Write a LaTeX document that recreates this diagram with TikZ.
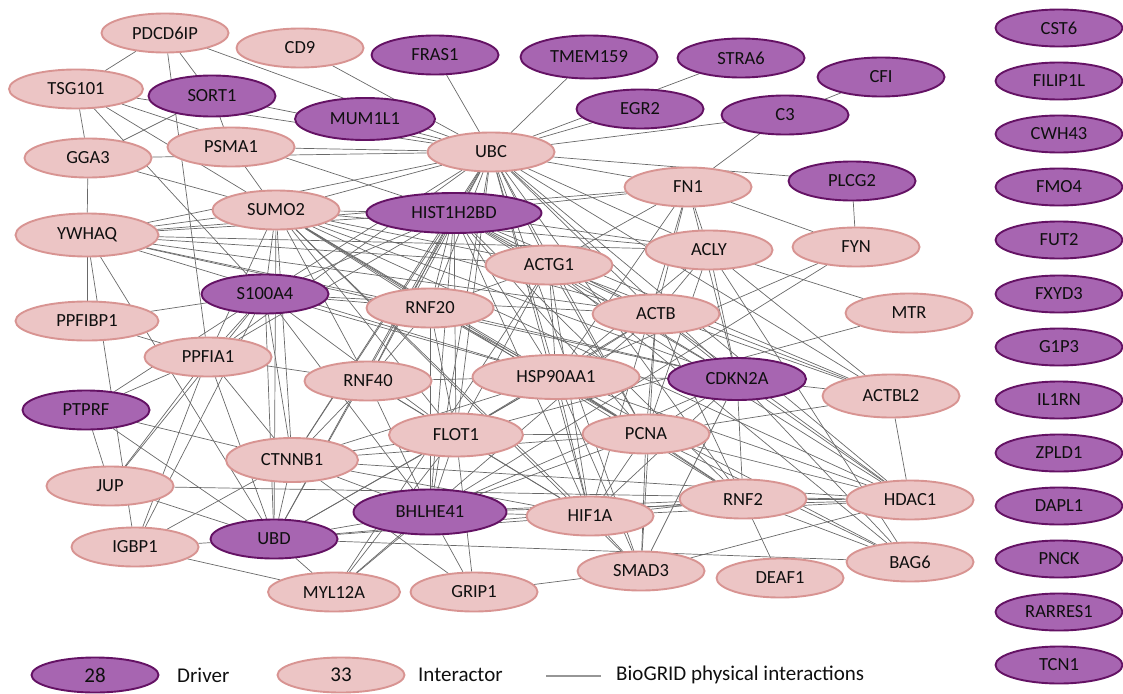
\documentclass[tikz,border=0pt]{standalone}
\usepackage{fontspec}
\setmainfont{Carlito}
\usepackage{tikz}
\definecolor{drv}{RGB}{167, 101, 177}
\definecolor{drvline}{RGB}{100, 18, 100}
\definecolor{itr}{RGB}{236, 197, 197}
\definecolor{itrline}{RGB}{216, 148, 146}
\definecolor{ln}{RGB}{105, 105, 105}
\definecolor{legln}{RGB}{150, 150, 150}
\definecolor{txt}{RGB}{15, 15, 15}
\usetikzlibrary{shapes.geometric}
\pgfdeclarelayer{background}
\pgfsetlayers{background,main}

\begin{document}
\begin{tikzpicture}[
driver/.style={ellipse, minimum width=127pt, minimum height=39pt, inner sep=0pt, fill=drv, line width=1.9pt, draw=drvline, text=txt, font=\fontsize{18.5}{20}\selectfont},
interactor/.style={ellipse, minimum width=127pt, minimum height=39pt, inner sep=0pt, fill=itr, line width=1.9pt, draw=itrline, text=txt, font=\fontsize{18.5}{20}\selectfont},
edge/.style={line width=0.7pt, color=ln},
legendtext/.style={anchor=west, inner sep=0pt, text=txt, font=\fontsize{21}{24}\selectfont}]
\useasboundingbox (0pt,0pt) rectangle (1123pt,-693pt);
% interactors
\node (PDCD6IP) [interactor] at (165pt, -33pt) {PDCD6IP};
\node (CD9) [interactor] at (300pt, -48pt) {CD9};
\node (TSG101) [interactor, minimum width=134pt] at (76pt, -89pt) {TSG101};
\node (GGA3) [interactor] at (88pt, -158pt) {GGA3};
\node (PSMA1) [interactor] at (231pt, -147pt) {PSMA1};
\node (UBC) [interactor] at (491pt, -152pt) {UBC};
\node (SUMO2) [interactor] at (276pt, -210pt) {SUMO2};
\node (FN1) [interactor] at (688pt, -187pt) {FN1};
\node (YWHAQ) [interactor, minimum width=143pt, minimum height=43pt] at (87pt, -235pt) {YWHAQ};
\node (ACLY) [interactor] at (709pt, -250pt) {ACLY};
\node (FYN) [interactor] at (856pt, -247pt) {FYN};
\node (ACTG1) [interactor] at (549pt, -265pt) {ACTG1};
\node (RNF20) [interactor] at (430pt, -308pt) {RNF20};
\node (ACTB) [interactor] at (656pt, -314pt) {ACTB};
\node (MTR) [interactor] at (909pt, -313pt) {MTR};
\node (PPFIBP1) [interactor, minimum width=143pt] at (87pt, -321pt) {PPFIBP1};
\node (PPFIA1) [interactor] at (208pt, -357pt) {PPFIA1};
\node (RNF40) [interactor] at (368pt, -381pt) {RNF40};
\node (HSP90AA1) [interactor, minimum width=167pt, minimum height=44pt] at (556pt, -377pt) {HSP90AA1};
\node (ACTBL2) [interactor, minimum width=137pt, minimum height=43pt] at (891pt, -396pt) {ACTBL2};
\node (FLOT1) [interactor, minimum width=134pt, minimum height=43pt] at (456pt, -435pt) {FLOT1};
\node (PCNA) [interactor] at (646pt, -434pt) {PCNA};
\node (CTNNB1) [interactor, minimum width=132pt, minimum height=44pt] at (292pt, -460pt) {CTNNB1};
\node (JUP) [interactor] at (110pt, -486pt) {JUP};
\node (RNF2) [interactor] at (743pt, -499pt) {RNF2};
\node (HDAC1) [interactor] at (910pt, -500pt) {HDAC1};
\node (HIF1A) [interactor] at (590pt, -516pt) {HIF1A};
\node (IGBP1) [interactor] at (135pt, -547pt) {IGBP1};
\node (SMAD3) [interactor] at (641pt, -571pt) {SMAD3};
\node (DEAF1) [interactor] at (780pt, -578pt) {DEAF1};
\node (BAG6) [interactor] at (910pt, -562pt) {BAG6};
\node (MYL12A) [interactor, minimum width=132pt] at (334pt, -592pt) {MYL12A};
\node (GRIP1) [interactor] at (474pt, -592pt) {GRIP1};
% drivers in the network
\node (FRAS1) [driver] at (435pt, -55pt) {FRAS1};
\node (TMEM159) [driver, minimum width=137pt, minimum height=43pt] at (589pt, -57pt) {TMEM159};
\node (STRA6) [driver] at (741pt, -58pt) {STRA6};
\node (SORT1) [driver, minimum height=41pt] at (212pt, -96pt) {SORT1};
\node (CFI) [driver] at (881pt, -77pt) {CFI};
\node (MUM1L1) [driver, minimum width=140pt, minimum height=42pt] at (365pt, -119pt) {MUM1L1};
\node (EGR2) [driver] at (640pt, -109pt) {EGR2};
\node (C3) [driver] at (785pt, -115pt) {C3};
\node (PLCG2) [driver] at (852pt, -181pt) {PLCG2};
\node (HIST1H2BD) [driver, minimum width=175pt, minimum height=40pt] at (454pt, -213pt) {HIST1H2BD};
\node (S100A4) [driver] at (265pt, -294pt) {S100A4};
\node (CDKN2A) [driver, minimum width=138pt, minimum height=42pt] at (737pt, -379pt) {CDKN2A};
\node (PTPRF) [driver] at (86pt, -410pt) {PTPRF};
\node (BHLHE41) [driver, minimum width=153pt, minimum height=45pt] at (430pt, -512pt) {BHLHE41};
\node (UBD) [driver] at (274pt, -539pt) {UBD};
% drivers without interactions
\node (CST6) [driver, minimum height=37pt] at (1059pt, -28pt) {CST6};
\node (FILIP1L) [driver, minimum height=37pt] at (1059pt, -81pt) {FILIP1L};
\node (CWH43) [driver, minimum height=37pt] at (1059pt, -134pt) {CWH43};
\node (FMO4) [driver, minimum height=37pt] at (1059pt, -187pt) {FMO4};
\node (FUT2) [driver, minimum height=37pt] at (1059pt, -240pt) {FUT2};
\node (FXYD3) [driver, minimum height=37pt] at (1059pt, -294pt) {FXYD3};
\node (G1P3) [driver, minimum height=37pt] at (1059pt, -347pt) {G1P3};
\node (IL1RN) [driver, minimum height=37pt] at (1059pt, -400pt) {IL1RN};
\node (ZPLD1) [driver, minimum height=37pt] at (1059pt, -453pt) {ZPLD1};
\node (DAPL1) [driver, minimum height=37pt] at (1059pt, -506pt) {DAPL1};
\node (PNCK) [driver, minimum height=37pt] at (1059pt, -559pt) {PNCK};
\node (RARRES1) [driver, minimum height=37pt] at (1059pt, -612pt) {RARRES1};
\node (TCN1) [driver, minimum height=37pt] at (1059pt, -665pt) {TCN1};
% legend
\node (legdrv) [driver, minimum height=35pt, font=\fontsize{21}{24}\selectfont] at (95pt, -675pt) {28};
\node (legdrvtxt) [legendtext] at (177pt, -675pt) {Driver};
\node (legitr) [interactor, minimum height=35pt, font=\fontsize{21}{24}\selectfont] at (341pt, -675pt) {33};
\node (legitrtxt) [legendtext] at (418pt, -675pt) {Interactor};
\coordinate (lega) at (546pt, -676pt);
\coordinate (legb) at (601pt, -676pt);
\draw [line width=1.2pt, color=legln] (lega) to (legb);
\node (legedgetxt) [legendtext] at (616pt, -675pt) {BioGRID physical interactions};
% interactions
\begin{pgfonlayer}{background}
\draw [edge] (UBC) to (PDCD6IP);
\draw [edge] (UBC) to (CD9);
\draw [edge] (UBC) to (TSG101);
\draw [edge] (UBC) to (GGA3);
\draw [edge] (UBC) to (SORT1);
\draw [edge] (UBC) to (PSMA1);
\draw [edge] (UBC) to (MUM1L1);
\draw [edge] (UBC) to (FRAS1);
\draw [edge] (UBC) to (TMEM159);
\draw [edge] (UBC) to (STRA6);
\draw [edge] (UBC) to (EGR2);
\draw [edge] (UBC) to (C3);
\draw [edge] (UBC) to (PLCG2);
\draw [edge] (UBC) to (FN1);
\draw [edge] (UBC) to (YWHAQ);
\draw [edge] (UBC) to (SUMO2);
\draw [edge] (UBC) to (HIST1H2BD);
\draw [edge] (UBC) to (S100A4);
\draw [edge] (UBC) to (ACTG1);
\draw [edge] (UBC) to (ACTB);
\draw [edge] (UBC) to (ACLY);
\draw [edge] (UBC) to (RNF20);
\draw [edge] (UBC) to (RNF40);
\draw [edge] (UBC) to (HSP90AA1);
\draw [edge] (UBC) to (CDKN2A);
\draw [edge] (UBC) to (PCNA);
\draw [edge] (UBC) to (FLOT1);
\draw [edge] (UBC) to (CTNNB1);
\draw [edge] (UBC) to (PPFIA1);
\draw [edge] (UBC) to (BHLHE41);
\draw [edge] (UBC) to (UBD);
\draw [edge] (UBC) to (HIF1A);
\draw [edge] (UBC) to (RNF2);
\draw [edge] (UBC) to (HDAC1);
\draw [edge] (UBC) to (SMAD3);
\draw [edge] (UBC) to (ACTBL2);
\draw [edge] (CFI) to (C3);
\draw [edge] (C3) to (FN1);
\draw [edge] (PLCG2) to (FYN);
\draw [edge] (FN1) to (FYN);
\draw [edge] (PDCD6IP) to (TSG101);
\draw [edge] (PDCD6IP) to (SORT1);
\draw [edge] (PDCD6IP) to (PPFIA1);
\draw [edge] (TSG101) to (GGA3);
\draw [edge] (GGA3) to (SORT1);
\draw [edge] (SORT1) to (PSMA1);
\draw [edge] (GGA3) to (YWHAQ);
\draw [edge] (SUMO2) to (TSG101);
\draw [edge] (SUMO2) to (GGA3);
\draw [edge] (SUMO2) to (PSMA1);
\draw [edge] (SUMO2) to (YWHAQ);
\draw [edge] (SUMO2) to (S100A4);
\draw [edge] (SUMO2) to (HIST1H2BD);
\draw [edge] (SUMO2) to (RNF20);
\draw [edge] (SUMO2) to (RNF40);
\draw [edge] (SUMO2) to (PPFIA1);
\draw [edge] (SUMO2) to (ACTG1);
\draw [edge] (SUMO2) to (ACLY);
\draw [edge] (SUMO2) to (HSP90AA1);
\draw [edge] (SUMO2) to (CDKN2A);
\draw [edge] (SUMO2) to (PCNA);
\draw [edge] (SUMO2) to (HDAC1);
\draw [edge] (SUMO2) to (HIF1A);
\draw [edge] (SUMO2) to (FLOT1);
\draw [edge] (SUMO2) to (CTNNB1);
\draw [edge] (SUMO2) to (UBD);
\draw [edge] (SUMO2) to (RNF2);
\draw [edge] (SUMO2) to (SMAD3);
\draw [edge] (SUMO2) to (ACTB);
\draw [edge] (HIST1H2BD) to (TSG101);
\draw [edge] (HIST1H2BD) to (YWHAQ);
\draw [edge] (HIST1H2BD) to (S100A4);
\draw [edge] (HIST1H2BD) to (RNF20);
\draw [edge] (HIST1H2BD) to (RNF40);
\draw [edge] (HIST1H2BD) to (ACTG1);
\draw [edge] (HIST1H2BD) to (ACTB);
\draw [edge] (HIST1H2BD) to (ACLY);
\draw [edge] (HIST1H2BD) to (HSP90AA1);
\draw [edge] (HIST1H2BD) to (CDKN2A);
\draw [edge] (HIST1H2BD) to (PCNA);
\draw [edge] (HIST1H2BD) to (FLOT1);
\draw [edge] (HIST1H2BD) to (CTNNB1);
\draw [edge] (HIST1H2BD) to (PPFIA1);
\draw [edge] (HIST1H2BD) to (BHLHE41);
\draw [edge] (HIST1H2BD) to (UBD);
\draw [edge] (HIST1H2BD) to (HIF1A);
\draw [edge] (HIST1H2BD) to (RNF2);
\draw [edge] (HIST1H2BD) to (HDAC1);
\draw [edge] (HIST1H2BD) to (FN1);
\draw [edge] (HIST1H2BD) to (ACTBL2);
\draw [edge] (YWHAQ) to (PPFIBP1);
\draw [edge] (YWHAQ) to (UBD);
\draw [edge] (YWHAQ) to (IGBP1);
\draw [edge] (YWHAQ) to (ACTG1);
\draw [edge] (YWHAQ) to (ACTB);
\draw [edge] (YWHAQ) to (ACLY);
\draw [edge] (YWHAQ) to (CDKN2A);
\draw [edge] (YWHAQ) to (HSP90AA1);
\draw [edge] (YWHAQ) to (RNF20);
\draw [edge] (YWHAQ) to (FN1);
\draw [edge] (S100A4) to (PPFIBP1);
\draw [edge] (S100A4) to (PPFIA1);
\draw [edge] (S100A4) to (PTPRF);
\draw [edge] (S100A4) to (JUP);
\draw [edge] (S100A4) to (CTNNB1);
\draw [edge] (S100A4) to (RNF20);
\draw [edge] (S100A4) to (IGBP1);
\draw [edge] (S100A4) to (UBD);
\draw [edge] (S100A4) to (BHLHE41);
\draw [edge] (S100A4) to (FLOT1);
\draw [edge] (S100A4) to (ACTB);
\draw [edge] (S100A4) to (HSP90AA1);
\draw [edge] (S100A4) to (TSG101);
\draw [edge] (PPFIBP1) to (PPFIA1);
\draw [edge] (PPFIA1) to (PTPRF);
\draw [edge] (PPFIA1) to (RNF40);
\draw [edge] (PPFIA1) to (CTNNB1);
\draw [edge] (PPFIA1) to (UBD);
\draw [edge] (PPFIA1) to (IGBP1);
\draw [edge] (PPFIA1) to (JUP);
\draw [edge] (PTPRF) to (JUP);
\draw [edge] (PTPRF) to (CTNNB1);
\draw [edge] (PTPRF) to (UBD);
\draw [edge] (JUP) to (UBD);
\draw [edge] (JUP) to (HDAC1);
\draw [edge] (IGBP1) to (UBD);
\draw [edge] (IGBP1) to (MYL12A);
\draw [edge] (IGBP1) to (CTNNB1);
\draw [edge] (UBD) to (CTNNB1);
\draw [edge] (UBD) to (MYL12A);
\draw [edge] (UBD) to (BHLHE41);
\draw [edge] (UBD) to (FLOT1);
\draw [edge] (UBD) to (HSP90AA1);
\draw [edge] (UBD) to (HIF1A);
\draw [edge] (UBD) to (RNF2);
\draw [edge] (UBD) to (BAG6);
\draw [edge] (CTNNB1) to (RNF40);
\draw [edge] (CTNNB1) to (FLOT1);
\draw [edge] (CTNNB1) to (BHLHE41);
\draw [edge] (CTNNB1) to (HIF1A);
\draw [edge] (CTNNB1) to (HDAC1);
\draw [edge] (CTNNB1) to (PCNA);
\draw [edge] (CTNNB1) to (HSP90AA1);
\draw [edge] (MYL12A) to (BHLHE41);
\draw [edge] (MYL12A) to (ACTB);
\draw [edge] (MYL12A) to (FLOT1);
\draw [edge] (GRIP1) to (BHLHE41);
\draw [edge] (GRIP1) to (SMAD3);
\draw [edge] (GRIP1) to (FLOT1);
\draw [edge] (GRIP1) to (CTNNB1);
\draw [edge] (BHLHE41) to (FLOT1);
\draw [edge] (BHLHE41) to (HIF1A);
\draw [edge] (BHLHE41) to (HDAC1);
\draw [edge] (BHLHE41) to (RNF40);
\draw [edge] (BHLHE41) to (RNF20);
\draw [edge] (BHLHE41) to (PCNA);
\draw [edge] (BHLHE41) to (CDKN2A);
\draw [edge] (BHLHE41) to (RNF2);
\draw [edge] (BHLHE41) to (FYN);
\draw [edge] (FLOT1) to (RNF20);
\draw [edge] (FLOT1) to (RNF40);
\draw [edge] (FLOT1) to (HSP90AA1);
\draw [edge] (FLOT1) to (PCNA);
\draw [edge] (FLOT1) to (HIF1A);
\draw [edge] (FLOT1) to (ACTB);
\draw [edge] (FLOT1) to (ACTG1);
\draw [edge] (FLOT1) to (MTR);
\draw [edge] (RNF20) to (RNF40);
\draw [edge] (RNF20) to (HSP90AA1);
\draw [edge] (RNF20) to (PCNA);
\draw [edge] (RNF20) to (ACTG1);
\draw [edge] (RNF20) to (CDKN2A);
\draw [edge] (RNF40) to (HSP90AA1);
\draw [edge] (RNF40) to (HIF1A);
\draw [edge] (HSP90AA1) to (ACTB);
\draw [edge] (HSP90AA1) to (ACTG1);
\draw [edge] (HSP90AA1) to (FYN);
\draw [edge] (HSP90AA1) to (HIF1A);
\draw [edge] (HSP90AA1) to (CDKN2A);
\draw [edge] (HSP90AA1) to (PCNA);
\draw [edge] (HSP90AA1) to (BAG6);
\draw [edge] (HSP90AA1) to (HDAC1);
\draw [edge] (HSP90AA1) to (RNF2);
\draw [edge] (HSP90AA1) to (SMAD3);
\draw [edge] (HSP90AA1) to (ACLY);
\draw [edge] (HSP90AA1) to (FN1);
\draw [edge] (ACTG1) to (ACTB);
\draw [edge] (ACTG1) to (ACTBL2);
\draw [edge] (ACTG1) to (PCNA);
\draw [edge] (ACTG1) to (CDKN2A);
\draw [edge] (ACTG1) to (FN1);
\draw [edge] (ACTG1) to (BAG6);
\draw [edge] (ACTG1) to (MYL12A);
\draw [edge] (ACTG1) to (HIF1A);
\draw [edge] (ACTB) to (ACTBL2);
\draw [edge] (ACTB) to (FN1);
\draw [edge] (ACTB) to (PCNA);
\draw [edge] (ACTB) to (HDAC1);
\draw [edge] (ACTB) to (CDKN2A);
\draw [edge] (ACTB) to (SMAD3);
\draw [edge] (ACTB) to (RNF2);
\draw [edge] (ACTB) to (ACLY);
\draw [edge] (ACLY) to (FN1);
\draw [edge] (ACLY) to (MTR);
\draw [edge] (ACLY) to (ACTBL2);
\draw [edge] (ACLY) to (BAG6);
\draw [edge] (ACLY) to (CDKN2A);
\draw [edge] (ACLY) to (PCNA);
\draw [edge] (FN1) to (CDKN2A);
\draw [edge] (FN1) to (HIF1A);
\draw [edge] (CDKN2A) to (PCNA);
\draw [edge] (CDKN2A) to (HDAC1);
\draw [edge] (CDKN2A) to (RNF2);
\draw [edge] (CDKN2A) to (ACTBL2);
\draw [edge] (CDKN2A) to (SMAD3);
\draw [edge] (CDKN2A) to (BAG6);
\draw [edge] (CDKN2A) to (HIF1A);
\draw [edge] (PCNA) to (HDAC1);
\draw [edge] (PCNA) to (RNF2);
\draw [edge] (PCNA) to (SMAD3);
\draw [edge] (PCNA) to (ACTBL2);
\draw [edge] (PCNA) to (HIF1A);
\draw [edge] (PCNA) to (BAG6);
\draw [edge] (HIF1A) to (HDAC1);
\draw [edge] (HIF1A) to (SMAD3);
\draw [edge] (HIF1A) to (RNF2);
\draw [edge] (RNF2) to (HDAC1);
\draw [edge] (RNF2) to (BAG6);
\draw [edge] (RNF2) to (DEAF1);
\draw [edge] (SMAD3) to (HDAC1);
\draw [edge] (HDAC1) to (ACTBL2);
\end{pgfonlayer}
\end{tikzpicture}
\end{document}
